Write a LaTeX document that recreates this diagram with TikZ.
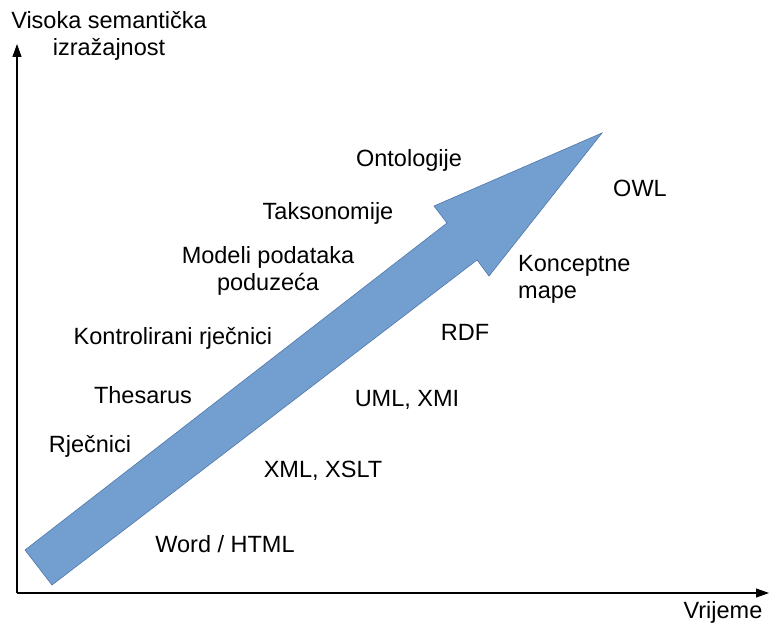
\documentclass[tikz,border=0pt]{standalone}
\usepackage{fontspec}
\setmainfont{Liberation Sans}
\usetikzlibrary{arrows.meta}
\definecolor{arrowblue}{RGB}{114,159,207}
\definecolor{arrowedge}{RGB}{80,120,170}
\tikzset{lbl/.style={font=\fontsize{23.5}{27}\selectfont,inner sep=0pt,align=center}}
\begin{document}
\begin{tikzpicture}[x=1pt,y=-1pt]
 \useasboundingbox (0,0) rectangle (770,623);
 \coordinate (O) at (17,593); \coordinate (ytop) at (17,44); \coordinate (xend) at (769,593);
 \draw[line width=1.1pt,-{Triangle[length=13pt,width=9pt]}] (O)--(ytop);
 \draw[line width=1.1pt,-{Triangle[length=13pt,width=9pt]}] (O)--(xend);
 \node[lbl] (yaxis) at (109,36) {Visoka semantička\\izražajnost};
 \node[lbl] (xaxis) at (723,612) {Vrijeme};
 \filldraw[fill=arrowblue,draw=arrowedge,line width=.6pt] (25,550)--(447,223)--(434,206)--(602,133)--(489,276)--(477,260)--(52,585)--cycle;
 \node[lbl] (onto) at (409,160) {Ontologije};
 \node[lbl] (takso) at (328,213) {Taksonomije};
 \node[lbl] (modeli) at (268,271) {Modeli podataka\\poduzeća};
 \node[lbl] (kontrol) at (173,338) {Kontrolirani rječnici};
 \node[lbl] (thes) at (143,395) {Thesarus};
 \node[lbl] (rjec) at (90,446) {Rječnici};
 \node[lbl] (word) at (225,544) {Word / HTML};
 \node[lbl] (xml) at (323,471) {XML, XSLT};
 \node[lbl] (uml) at (407,400) {UML, XMI};
 \node[lbl] (rdf) at (465,332) {RDF};
 \node[lbl,align=left,anchor=west] (konc) at (518,279) {Konceptne\\mape};
 \node[lbl] (owl) at (640,188) {OWL};
\end{tikzpicture}
\end{document}
